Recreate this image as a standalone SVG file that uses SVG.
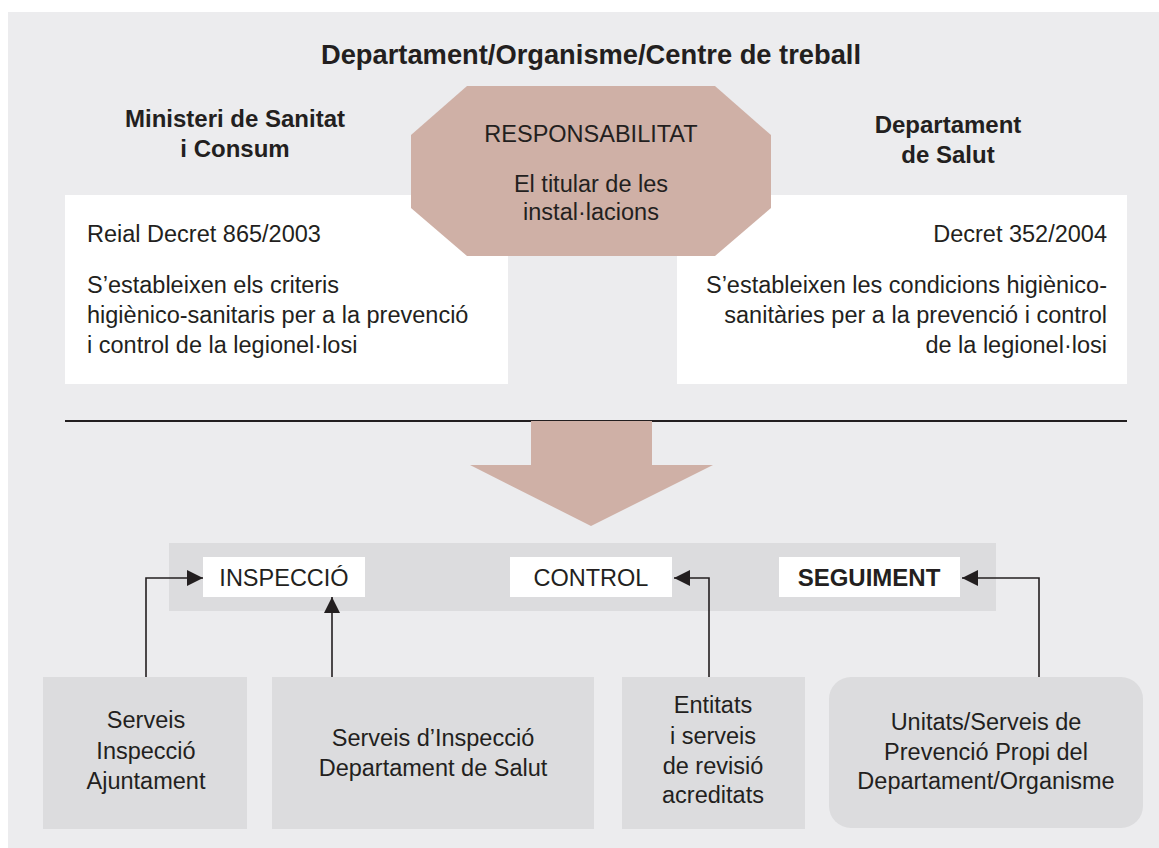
<svg xmlns="http://www.w3.org/2000/svg" width="1159" height="848" viewBox="0 0 1159 848">
<defs>
<style>
text{font-family:"Liberation Sans",Arial,sans-serif;fill:#231F20;font-size:23.5px}
.b{font-weight:bold;font-size:24px}
.c{text-anchor:middle}
.r{text-anchor:end}
.white{fill:#FFFFFF}
.box{fill:#DCDCDE}
.conn{fill:none;stroke:#231F20;stroke-width:1.6}
</style>
<marker id="ah" viewBox="0 0 10 10" refX="10" refY="5" markerWidth="22" markerHeight="16" markerUnits="userSpaceOnUse" orient="auto">
<path d="M0,0 L10,5 L0,10 Z" fill="#231F20"/>
</marker>
</defs>
<rect x="0" y="0" width="1159" height="848" fill="#FFFFFF"/>
<rect x="8" y="12" width="1151" height="836" fill="#ECECEE"/>
<g id="title"><text class="b c" x="591" y="64" style="font-size:27.3px">Departament/Organisme/Centre de treball</text></g>
<g id="ministeri"><text class="b c" x="235" y="127">Ministeri de Sanitat</text><text class="b c" x="235" y="157">i Consum</text></g>
<g id="salut"><text class="b c" x="948" y="133">Departament</text><text class="b c" x="948" y="163">de Salut</text></g>
<g id="reial-decret">
<rect class="white" x="65" y="195" width="443" height="189"/>
<text x="87" y="242">Reial Decret 865/2003</text>
<text x="87" y="293">S’estableixen els criteris</text>
<text x="87" y="323">higiènico-sanitaris per a la prevenció</text>
<text x="87" y="353">i control de la legionel·losi</text>
</g>
<g id="decret">
<rect class="white" x="677" y="195" width="450" height="189"/>
<text class="r" x="1107" y="242">Decret 352/2004</text>
<text class="r" x="1107" y="293">S’estableixen les condicions higiènico-</text>
<text class="r" x="1107" y="323">sanitàries per a la prevenció i control</text>
<text class="r" x="1107" y="353">de la legionel·losi</text>
</g>
<g id="responsabilitat">
<polygon points="467,86 715,86 771,135 771,208 715,256 467,256 411,208 411,135" fill="#CFB0A6"/>
<text class="c" x="591" y="142">RESPONSABILITAT</text>
<text class="c" x="591" y="192">El titular de les</text>
<text class="c" x="591" y="220">instal·lacions</text>
</g>
<line x1="65" y1="421" x2="1127" y2="421" stroke="#231F20" stroke-width="2.2"/>
<g id="big-arrow"><polygon points="531,421 652,421 652,465 713,465 591,526 470,465 531,465" fill="#CFB0A6"/></g>
<g id="band">
<rect class="box" x="169" y="543" width="827" height="68"/>
</g>
<g id="inspeccio"><rect class="white" x="203" y="557" width="162" height="40"/><text class="c" x="284" y="586">INSPECCIÓ</text></g>
<g id="control"><rect class="white" x="510" y="557" width="162" height="40"/><text class="c" x="591" y="586">CONTROL</text></g>
<g id="seguiment"><rect class="white" x="779" y="557" width="181" height="40"/><text class="b c" x="869" y="586">SEGUIMENT</text></g>
<g id="ajuntament"><rect class="box" x="43" y="677" width="204" height="152"/>
<text class="c" x="146" y="728">Serveis</text><text class="c" x="146" y="759">Inspecció</text><text class="c" x="146" y="789">Ajuntament</text></g>
<g id="inspeccio-salut"><rect class="box" x="272" y="677" width="322" height="152"/>
<text class="c" x="433" y="746">Serveis d’Inspecció</text><text class="c" x="433" y="776">Departament de Salut</text></g>
<g id="entitats"><rect class="box" x="622" y="677" width="183" height="152"/>
<text class="c" x="713" y="713">Entitats</text><text class="c" x="713" y="744">i serveis</text><text class="c" x="713" y="774">de revisió</text><text class="c" x="713" y="803">acreditats</text></g>
<g id="unitats"><rect class="box" x="829" y="677" width="314" height="151" rx="22" ry="22"/>
<text class="c" x="986" y="730">Unitats/Serveis de</text><text class="c" x="986" y="760">Prevenció Propi del</text><text class="c" x="986" y="789">Departament/Organisme</text></g>
<g id="connectors">
<path class="conn" d="M146,677 V578 H203" marker-end="url(#ah)"/>
<path class="conn" d="M332,677 V597" marker-end="url(#ah)"/>
<path class="conn" d="M709,677 V578 H674" marker-end="url(#ah)"/>
<path class="conn" d="M1039,677 V578 H962" marker-end="url(#ah)"/>
</g>
</svg>
